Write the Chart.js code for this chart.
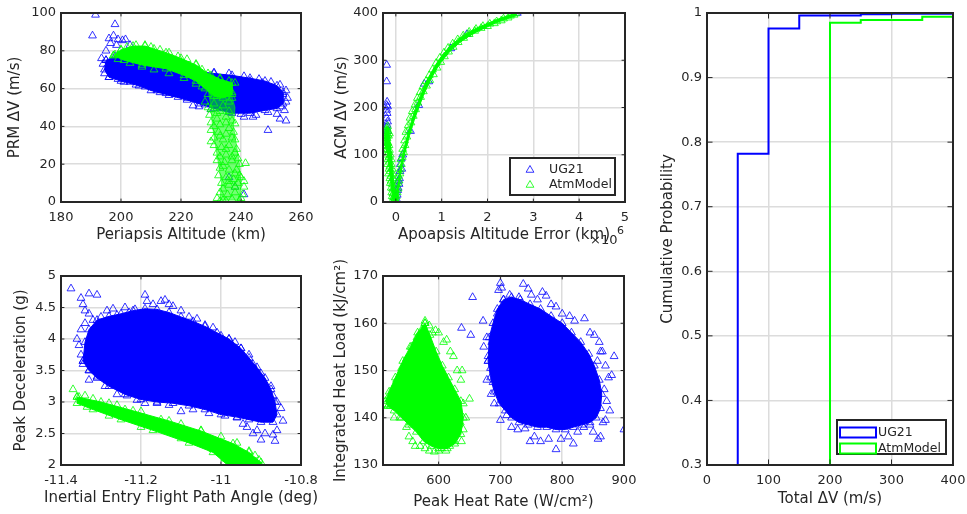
<!DOCTYPE html>
<html>
<head>
<meta charset="utf-8">
<script src="https://cdn.jsdelivr.net/npm/chart.js@4/dist/chart.umd.min.js"></script>
<style>
  body { margin: 0; background: #fff; width: 967px; height: 514px; overflow: hidden; position: relative; }
  canvas { position: absolute; }
</style>
</head>
<body>
<canvas id="c1" width="330" height="250" style="left:0;top:0"></canvas>
<canvas id="c2" width="320" height="250" style="left:330px;top:0"></canvas>
<canvas id="c3" width="330" height="264" style="left:0;top:250px"></canvas>
<canvas id="c4" width="320" height="264" style="left:330px;top:250px"></canvas>
<canvas id="c5" width="317" height="514" style="left:650px;top:0"></canvas>
<script>
// series
var seriesNames = ['UG21', 'AtmModel'];
var ugColor = '#0000ff';
var atmColor = '#00ff00';

// tick labels
var periTicks = [180, 200, 220, 240, 260];
var prmTicks = [0, 20, 40, 60, 80, 100];
var apoTicks = [0, 1, 2, 3, 4, 5];
var acmTicks = [0, 100, 200, 300, 400];
var fpaTicks = [-11.4, -11.2, -11, -10.8];
var decelTicks = [2, 2.5, 3, 3.5, 4, 4.5, 5];
var rateTicks = [600, 700, 800, 900];
var loadTicks = [130, 140, 150, 160, 170];
var dvTicks = [0, 100, 200, 300, 400];
var probTicks = [0.3, 0.4, 0.5, 0.6, 0.7, 0.8, 0.9, 1];

// periapsis altitude (km) vs PRM dV (m/s): outline of the dense core + scattered runs
var periUgCore = [[195,75],[198,77],[204,76.5],[210,76],[215,74],[220,72],[226,69],[231,68],[237,67],[243,65.5],[248,64],[252,61.5],[254,58],[254,52],[252,49.5],[248,48.5],[243,47],[237,47],[231,49.5],[226,52],[222,54],[216,56.5],[210,59],[206,61.5],[200,64],[196,66],[194.5,70],[195,75]];
var periUgPts = [[191.5,99],[190.5,88],[198,94],[196,86.5],[197.5,88],[199,86],[200.5,85.5],[201.5,86],[196.5,84],[198.5,83],[203,83],[195,80],[193.5,76],[194,73],[194.5,68],[196,66],[199,65],[203,63.5],[208,61],[212,59],[213,58],[218,57],[222,55],[224,51],[228,51.5],[233,49.5],[236,47.5],[241,45],[245,46],[249,47.5],[249,38],[252,46.5],[253,44],[255,43],[254.5,48.5],[255,59],[254,57],[255,53],[253,62],[250,63.5],[246,65],[241,66.5],[236,68],[231,68.5],[238,8],[241,4],[236,13],[244,45],[240,46.5],[255.5,55],[252,54],[253.5,50.5],[219,55.5],[215,57.5],[205,62],[201,63.5],[226,50.5],[230,49],[247,63],[251,60],[243,64]];
var periAtmCore = [[197.5,77.5],[200,80.5],[204,82.5],[208,82.5],[211,81],[215,79],[220,76],[225,72.5],[229,68],[233,65],[237,63],[237,57],[234,55],[231,56],[228,60],[225,64],[221,67],[215,70.5],[207,72.5],[201,75],[197.5,77.5]];
var periAtmStem = [[229,60],[236,62],[238,50],[237.5,40],[238.5,30],[239.5,20],[240,10],[239.5,1],[233,1],[233.5,10],[232.5,20],[231.5,30],[230.5,40],[230,50],[229,60]];
var periAtmPts = [[198,78],[200,80.5],[202,82],[205,83],[208,83],[210,82],[213,80.5],[216,79],[219,77],[222,75.5],[225,73],[227,70],[230,67],[233,65.5],[236,64],[238,63],[199,75.5],[203,73.5],[207,71.5],[211,70],[216,68],[221,65.5],[225,62.5],
  [227,61],[230,62],[233,60],[236,61],[229,57],[232,56],[235,57],[237,58],[228,53],[231,52],[234,51],[236,53],[230,49],[233,48],[236,48],
  [229.5,46],[232,44],[235,45],[237,43],[230,42],[233,41],[238,41.5],[230,38],[232.5,37],[235,36],[237.5,37],[231,34],[234,33],[237,34],
  [231,30],[233.5,29],[236,30],[238.5,28],[232,26],[235,25],[238,26],[232,22],[234.5,21],[237,22],[239.5,20],[241.5,20.5],[233,18],[236,17],[238.5,17],
  [232.5,14],[235,13],[237.5,12],[240,13],[233.5,10],[236,9],[239,10],[241,8],[233,5],[235.5,4],[238,5],[240.5,4],[234,1],[237,1.5],[239.5,0.8],[233,0.5],
  [228,63],[231,59],[234,58],[237,55],[229,50],[232,47],[235,42],[231,40],[236,39],[233,35],[238,33],[230,32],[235,28],[237,24],[233,24],[239,23],[234,19],[238,15],[236,11],[234,7],[238,8],[240,2],[232,2],[235,0.5],[241,11],[239.5,14]];

// apoapsis altitude error (1e6 km) vs ACM dV (m/s)
var apoUgPts = [[-0.2,290],[-0.2,255],[-0.19,212],[-0.2,205],[-0.18,202],[-0.2,195],[-0.19,188],[-0.2,178],[-0.18,170],[-0.19,163],[-0.2,158],[-0.18,150],[0,0],[0.02,5],[0.03,15],[0.05,30],[0.06,45],[0.08,50],[0.09,65],[0.1,80],[0.12,92],[0.13,70],[0.07,38],[0.04,25],[0.15,100],[0.32,150],[0.5,205],[0.62,250],[0.72,255],[1.2,325],[1.55,355],[2.65,400]];
var apoAtmBand = [[-0.02,5],[0.02,20],[0.06,48],[0.1,75],[0.15,100],[0.2,122],[0.3,158],[0.4,190],[0.5,215],[0.6,240],[0.7,261],[0.8,279],[0.9,295],[1,309],[1.2,331],[1.4,347],[1.6,360],[1.8,370],[2,378],[2.2,386],[2.4,393],[2.6,399],[2.62,394],[2.4,387],[2.2,380],[2,371],[1.8,362],[1.6,351],[1.4,338],[1.2,321],[1,298],[0.9,283],[0.8,266],[0.7,247],[0.6,225],[0.5,200],[0.4,173],[0.3,141],[0.2,105],[0.15,83],[0.1,55],[0.06,25],[0.04,2],[-0.02,5]];
var apoAtmV = [[-0.24,145],[-0.2,160],[-0.16,158],[-0.13,130],[-0.09,90],[-0.05,45],[-0.01,12],[0.02,0],[-0.05,0],[-0.09,25],[-0.14,70],[-0.19,105],[-0.24,125],[-0.24,145]];
var apoAtmPts = [[-0.2,150],[-0.19,155],[-0.18,160],[-0.17,150],[-0.2,140],[-0.19,135],[-0.18,142],[-0.2,128],[-0.19,120],[-0.17,125],[-0.18,110],[-0.2,112],[-0.16,105],[-0.19,100],[-0.15,95],[-0.17,90],[-0.14,85],[-0.18,80],[-0.13,75],[-0.15,70],[-0.12,65],[-0.16,60],[-0.11,55],[-0.13,50],[-0.1,45],[-0.12,40],[-0.08,38],[-0.1,30],[-0.07,28],[-0.09,20],[-0.06,18],[-0.08,12],[-0.05,10],[-0.06,5],[-0.04,3],[-0.03,0],[-0.02,8],[0,2],[0.02,0],[0.01,12],
  [-0.15,120],[-0.14,110],[-0.12,100],[-0.1,90],[-0.08,70],[-0.06,50],[-0.04,30],[-0.02,15],[-0.16,140],[-0.14,145],[-0.1,80],[-0.07,60],[-0.22,130],[-0.21,118],
  [0.03,20],[0.05,28],[0.04,40],[0.07,45],[0.06,55],[0.09,60],[0.1,70],[0.12,80],[0.11,90],[0.14,95],[0.17,105],[0.15,112],[0.2,120],[0.19,130],[0.24,138],[0.22,148],[0.28,152],[0.27,162],[0.33,168],[0.31,178],[0.38,182],[0.36,192],[0.43,196],[0.42,206],[0.48,210],[0.47,220],[0.54,222],[0.53,232],[0.6,234],[0.59,244],[0.67,246],[0.66,256],[0.74,258],[0.73,268],[0.82,270],[0.8,280],[0.9,284],[0.88,294],[0.98,296],[0.96,305],[1.06,308],[1.05,316],[1.15,318],[1.14,326],[1.25,328],[1.24,335],[1.36,338],[1.35,344],[1.48,347],[1.47,352],[1.6,355],[1.6,360],[1.72,362],[1.75,366],[1.86,368],[1.9,372],[2,372],[2.05,377],[2.15,378],[2.2,382],[2.3,384],[2.35,388],[2.45,390],[2.5,394],[2.58,396],[2.62,399]];

// inertial entry flight path angle (deg) vs peak deceleration (g)
var fpaUgCore = [[-11.345,3.65],[-11.34,3.95],[-11.33,4.15],[-11.31,4.3],[-11.28,4.36],[-11.25,4.4],[-11.22,4.45],[-11.19,4.48],[-11.16,4.47],[-11.13,4.42],[-11.1,4.35],[-11.07,4.28],[-11.04,4.2],[-11.01,4.1],[-10.98,4],[-10.95,3.85],[-10.93,3.7],[-10.91,3.55],[-10.89,3.38],[-10.875,3.2],[-10.865,3],[-10.86,2.8],[-10.87,2.68],[-10.9,2.68],[-10.93,2.72],[-10.96,2.76],[-11,2.8],[-11.04,2.88],[-11.08,2.94],[-11.12,2.98],[-11.16,3],[-11.2,3.04],[-11.24,3.12],[-11.28,3.25],[-11.31,3.38],[-11.33,3.5],[-11.345,3.65]];
var fpaUgPts = [[-11.375,4.8],[-11.35,4.65],[-11.33,4.72],[-11.31,4.7],[-11.345,4.55],[-11.34,4.45],[-11.33,4.4],[-11.32,4.3],[-11.3,4.35],[-11.285,4.45],[-11.27,4.48],[-11.26,4.38],[-11.24,4.5],[-11.23,4.42],[-11.215,4.47],[-11.19,4.7],[-11.185,4.6],[-11.17,4.55],[-11.15,4.6],[-11.14,4.62],[-11.13,4.55],[-11.12,4.52],[-11.1,4.45],[-11.08,4.35],[-11.06,4.32],[-11.04,4.22],[-11.02,4.18],[-11,4.05],[-10.98,4],[-10.965,3.95],[-10.95,3.85],[-10.93,3.75],[-10.92,3.6],[-10.9,3.45],[-10.89,3.3],[-10.875,3.25],[-10.87,3.1],[-10.86,3],[-10.85,2.9],[-10.845,2.7],[-10.86,2.55],[-10.865,2.38],[-10.87,2.48],[-10.89,2.5],[-10.9,2.4],[-10.91,2.55],[-10.92,2.5],[-10.935,2.6],[-10.945,2.65],[-10.96,2.75],[-10.99,2.78],[-11.03,2.82],[-11.07,2.88],[-11.1,2.85],[-11.13,2.95],[-11.16,2.98],[-11.19,2.98],[-11.21,3.03],[-11.235,3.1],[-11.26,3.12],[-11.29,3.25],[-11.31,3.4],[-11.33,3.5],[-11.345,3.6],[-11.355,3.9],[-11.36,4],[-11.35,4.15],[-11.34,4.25],[-11.35,3.75],[-11.33,3.35]];
var fpaAtmCore = [[-11.36,3.08],[-11.3,3],[-11.22,2.86],[-11.13,2.7],[-11.05,2.54],[-10.97,2.34],[-10.93,2.2],[-10.9,2.04],[-10.9,1.98],[-10.98,1.98],[-11.02,2.2],[-11.08,2.35],[-11.17,2.55],[-11.25,2.72],[-11.32,2.88],[-11.36,2.98],[-11.36,3.08]];
var fpaAtmPts = [[-11.37,3.2],[-11.355,3.08],[-11.34,3.1],[-11.32,3.05],[-11.3,2.92],[-11.28,2.98],[-11.26,2.95],[-11.24,2.88],[-11.2,2.85],[-11.15,2.72],[-11.1,2.65],[-11.05,2.55],[-11,2.45],[-10.96,2.35],[-10.93,2.22],[-10.915,2.15],[-10.905,2.08],[-10.93,2.05],[-10.99,2.1],[-11.02,2.25],[-11.1,2.42],[-11.2,2.6],[-11.28,2.78],[-11.335,2.92]];

// peak heat rate (W/cm2) vs integrated heat load (kJ/cm2)
var rateUgCore = [[680,152],[682,157],[688,160],[695,163],[705,165],[718,165.5],[732,165],[748,164],[765,163],[782,161.5],[800,160],[815,158],[830,156],[843,153.5],[852,151],[860,148],[864,145],[862,142],[855,140],[845,139],[832,138.5],[818,138],[805,137.5],[790,137.5],[775,138],[760,138],[745,138.5],[730,139],[718,140],[708,141.5],[698,143],[690,145.5],[684,148.5],[680,152]];
var rateUgPts = [[700,168.5],[702,167.5],[697,167],[737,168.3],[745,167.3],[768,166.6],[774,165.8],[655,165.5],[637,159],[652,157.5],[672,160.5],[678,157],[673,155],[680,153],[684,150.5],[678,148],[688,147.5],[685,145],[690,143],[700,139.5],[710,140.5],[718,138],[728,137.5],[740,137.7],[748,135],[755,136],[765,135],[778,135.5],[790,133.3],[798,135.5],[810,136],[818,134.5],[825,137],[835,138],[845,138.5],[850,137],[858,135.5],[862,136],[866,139],[870,139.5],[877,141.5],[872,143.5],[868,146],[875,148.5],[880,149],[884,153],[870,151],[865,154],[860,156],[852,157.5],[845,158],[836,161],[820,160.5],[812,161.5],[800,162],[790,163.5],[782,164],[760,165],[750,166],[730,165.5],[715,166],[705,165],[695,162],[690,158],[686,156],[900,137.5],[862,154],[857,152]];
var rateAtmCore = [[578,160],[586,157.5],[596,154],[606,151],[616,148.5],[626,146],[636,143.5],[640,140],[636,136.5],[626,134.5],[614,133.5],[600,133.5],[588,134],[576,135],[564,137],[552,138.5],[540,140],[528,141.5],[518,142.5],[514,143.5],[520,145.5],[530,148.5],[542,152],[554,155],[566,158],[578,160]];
var rateAtmPts = [[578,160.5],[572,158.5],[565,157],[556,155],[548,152.5],[540,150.5],[532,148],[525,146],[519,144.5],[514,142.8],[518,142.5],[522,142.5],[528,140],[537,140],[548,138],[552,136],[558,135],[562,134],[570,134],[578,133.5],[585,133],[593,132.8],[600,133],[605,133.5],[612,133],[618,134],[626,135],[637,135],[640,137.5],[635,139],[644,140],[650,144],[640,143],[636,148],[630,150],[638,150],[624,153],[619,154],[613,156.5],[608,156],[600,158],[595,158.5],[585,159.5],[590,158]];

// total dV (m/s) cumulative probability, value holds from each edge to the next
var dvEdges = [0, 50, 100, 150, 200, 250, 300, 350, 400];
var ugCdf = [0, 0.782, 0.976, 0.996, 0.996, 0.998, 0.999, 0.999, 0.999];
var atmCdf = [0, 0, 0, 0, 0.985, 0.989, 0.989, 0.994, 0.994];

Chart.defaults.font.family = '"DejaVu Sans", sans-serif';
Chart.defaults.font.size = 13;
Chart.defaults.color = '#262626';

function tri(ctx, x, y, r) {
  ctx.moveTo(x, y - r);
  ctx.lineTo(x + 0.866 * r, y + 0.5 * r);
  ctx.lineTo(x - 0.866 * r, y + 0.5 * r);
  ctx.closePath();
}

// box, inward ticks, axis labels, legend
var frame = {
  id: 'frame',
  afterDatasetsDraw: function(chart, args, o) {
    var ctx = chart.ctx, a = chart.chartArea, sx = chart.scales.x, sy = chart.scales.y;
    ctx.save();
    var len = 0.01 * Math.max(a.width, a.height) + 1;
    ctx.strokeStyle = '#262626';
    ctx.lineWidth = 1;
    ctx.beginPath();
    sx.ticks.forEach(function(t) {
      var p = sx.getPixelForValue(t.value);
      ctx.moveTo(p, a.bottom); ctx.lineTo(p, a.bottom - len);
      ctx.moveTo(p, a.top); ctx.lineTo(p, a.top + len);
    });
    sy.ticks.forEach(function(t) {
      var p = sy.getPixelForValue(t.value);
      ctx.moveTo(a.left, p); ctx.lineTo(a.left + len, p);
      ctx.moveTo(a.right, p); ctx.lineTo(a.right - len, p);
    });
    ctx.stroke();
    ctx.lineWidth = 2;
    ctx.strokeRect(a.left, a.top, a.width, a.height);

    ctx.fillStyle = '#262626';
    ctx.font = '15px "DejaVu Sans"';
    ctx.textAlign = 'center';
    ctx.textBaseline = 'middle';
    ctx.fillText(o.xLabel, (a.left + a.right) / 2, a.bottom + o.xDy);
    if (o.exp) {
      ctx.textAlign = 'left';
      ctx.textBaseline = 'alphabetic';
      ctx.font = '13px "DejaVu Sans"';
      ctx.fillText('\u00d710', o.exp[0], o.exp[1]);
      ctx.font = '11px "DejaVu Sans"';
      ctx.fillText('6', o.exp[0] + 27, o.exp[1] - 10);
    }
    ctx.save();
    ctx.font = '15px "DejaVu Sans"';
    ctx.textAlign = 'center';
    ctx.textBaseline = 'middle';
    ctx.translate(a.left + o.yDx, (a.top + a.bottom) / 2);
    ctx.rotate(-Math.PI / 2);
    ctx.fillText(o.yLabel, 0, 0);
    ctx.restore();

    var L = o.legend;
    if (L) {
      ctx.fillStyle = '#fff';
      ctx.fillRect(L.x, L.y, L.w, L.h);
      ctx.lineWidth = 2;
      ctx.strokeStyle = '#262626';
      ctx.strokeRect(L.x, L.y, L.w, L.h);
      ctx.font = '12.5px "DejaVu Sans"';
      ctx.textAlign = 'left';
      ctx.textBaseline = 'middle';
      [ugColor, atmColor].forEach(function(c, i) {
        var cy = L.y + L.row0 + i * L.gap;
        ctx.strokeStyle = c;
        if (L.kind === 'marker') {
          ctx.lineWidth = 0.8;
          ctx.beginPath();
          tri(ctx, L.x + L.mx, cy, 4.5);
          ctx.stroke();
        } else {
          ctx.lineWidth = 2;
          ctx.strokeRect(L.x + L.mx, cy - 5, 36, 10);
        }
        ctx.fillStyle = '#262626';
        ctx.fillText(seriesNames[i], L.x + L.tx, cy);
      });
    }
    ctx.restore();
  }
};

function cloud(pts, color, order) {
  return { data: pts, showLine: false, pointStyle: 'triangle', pointRadius: 4.5,
    borderWidth: 0.8, borderColor: color, backgroundColor: 'rgba(0,0,0,0)', order: order };
}
function core(pts, color, order) {
  return { type: 'line', data: pts, showLine: true, fill: 'shape', tension: 0,
    backgroundColor: color, borderColor: color, borderWidth: 1, pointRadius: 0, order: order };
}
function fixTicks(vals) {
  return function(s) { s.ticks = vals.map(function(v) { return { value: v }; }); };
}

function panel(id, p) {
  return new Chart(document.getElementById(id), {
    type: 'scatter',
    data: { datasets: p.datasets },
    plugins: [frame],
    options: {
      responsive: false,
      animation: false,
      events: [],
      layout: { autoPadding: false, padding: { top: p.top, right: p.right, left: 0, bottom: 0 } },
      plugins: { legend: { display: false }, tooltip: { enabled: false }, frame: p.frame },
      scales: {
        x: {
          type: 'linear', min: p.x[0], max: p.x[1],
          afterBuildTicks: fixTicks(p.xTicks),
          afterFit: function(s) { s.height = p.xH; s.paddingLeft = 0; s.paddingRight = 0; },
          grid: { color: '#dcdcdc', lineWidth: 1.5, drawTicks: false },
          border: { display: false },
          ticks: { padding: 8, maxRotation: 0, callback: function(v) { return String(v); } }
        },
        y: {
          type: 'linear', min: p.y[0], max: p.y[1],
          afterBuildTicks: fixTicks(p.yTicks),
          afterFit: function(s) { s.width = p.yW; s.paddingTop = 0; s.paddingBottom = 0; },
          grid: { color: '#dcdcdc', lineWidth: 1.5, drawTicks: false },
          border: { display: false },
          ticks: { padding: 5, callback: function(v) { return String(v); } }
        }
      }
    }
  });
}

panel('c1', {
  x: [180, 260], y: [0, 100], xTicks: periTicks, yTicks: prmTicks,
  top: 13, right: 29, yW: 61, xH: 48,
  datasets: [
    core(periUgCore, ugColor, 7),
    cloud(periUgCore, ugColor, 6),
    cloud(periUgPts, ugColor, 5),
    core(periAtmStem, 'rgba(0,255,0,0.55)', 4),
    core(periAtmCore, atmColor, 3),
    cloud(periAtmCore, atmColor, 2),
    cloud(periAtmPts, atmColor, 1)
  ],
  frame: { xLabel: 'Periapsis Altitude (km)', yLabel: 'PRM \u0394V (m/s)', xDy: 33, yDx: -46 }
});

panel('c2', {
  x: [-0.28, 5], y: [0, 400], xTicks: apoTicks, yTicks: acmTicks,
  top: 13, right: 25, yW: 53, xH: 48,
  datasets: [
    cloud(apoUgPts, ugColor, 4),
    core(apoAtmBand, atmColor, 3),
    core(apoAtmV, atmColor, 2),
    cloud(apoAtmPts, atmColor, 1)
  ],
  frame: { xLabel: 'Apoapsis Altitude Error (km)', yLabel: 'ACM \u0394V (m/s)', xDy: 33, yDx: -41,
    exp: [260, 244],
    legend: { x: 180, y: 158, w: 105, h: 37, row0: 12, gap: 15, mx: 20, tx: 39, kind: 'marker' } }
});

panel('c3', {
  x: [-11.4, -10.8], y: [2, 5], xTicks: fpaTicks, yTicks: decelTicks,
  top: 26, right: 29, yW: 61, xH: 49,
  datasets: [
    core(fpaUgCore, ugColor, 6),
    cloud(fpaUgCore, ugColor, 5),
    cloud(fpaUgPts, ugColor, 4),
    core(fpaAtmCore, atmColor, 3),
    cloud(fpaAtmCore, atmColor, 2),
    cloud(fpaAtmPts, atmColor, 1)
  ],
  frame: { xLabel: 'Inertial Entry Flight Path Angle (deg)', yLabel: 'Peak Deceleration (g)', xDy: 33, yDx: -40 }
});

panel('c4', {
  x: [510, 900], y: [130, 170], xTicks: rateTicks, yTicks: loadTicks,
  top: 26, right: 26, yW: 53, xH: 49,
  datasets: [
    core(rateUgCore, ugColor, 6),
    cloud(rateUgCore, ugColor, 5),
    cloud(rateUgPts, ugColor, 4),
    core(rateAtmCore, atmColor, 3),
    cloud(rateAtmCore, atmColor, 2),
    cloud(rateAtmPts, atmColor, 1)
  ],
  frame: { xLabel: 'Peak Heat Rate (W/cm\u00b2)', yLabel: 'Integrated Heat Load (kJ/cm\u00b2)', xDy: 37, yDx: -42 }
});

panel('c5', {
  x: [0, 400], y: [0.3, 1], xTicks: dvTicks, yTicks: probTicks,
  top: 13, right: 14, yW: 57, xH: 49,
  datasets: [
    { type: 'line', data: dvEdges.map(function(v, i) { return [v, ugCdf[i]]; }), stepped: 'before',
      borderColor: ugColor, borderWidth: 2, pointRadius: 0, fill: false, order: 2 },
    { type: 'line', data: dvEdges.map(function(v, i) { return [v, atmCdf[i]]; }), stepped: 'before',
      borderColor: atmColor, borderWidth: 2, pointRadius: 0, fill: false, order: 1 }
  ],
  frame: { xLabel: 'Total \u0394V (m/s)', yLabel: 'Cumulative Probability', xDy: 34, yDx: -39,
    legend: { x: 187, y: 420, w: 109, h: 34, row0: 12.5, gap: 16, mx: 3, tx: 41, kind: 'rect' } }
});
</script>
</body>
</html>
